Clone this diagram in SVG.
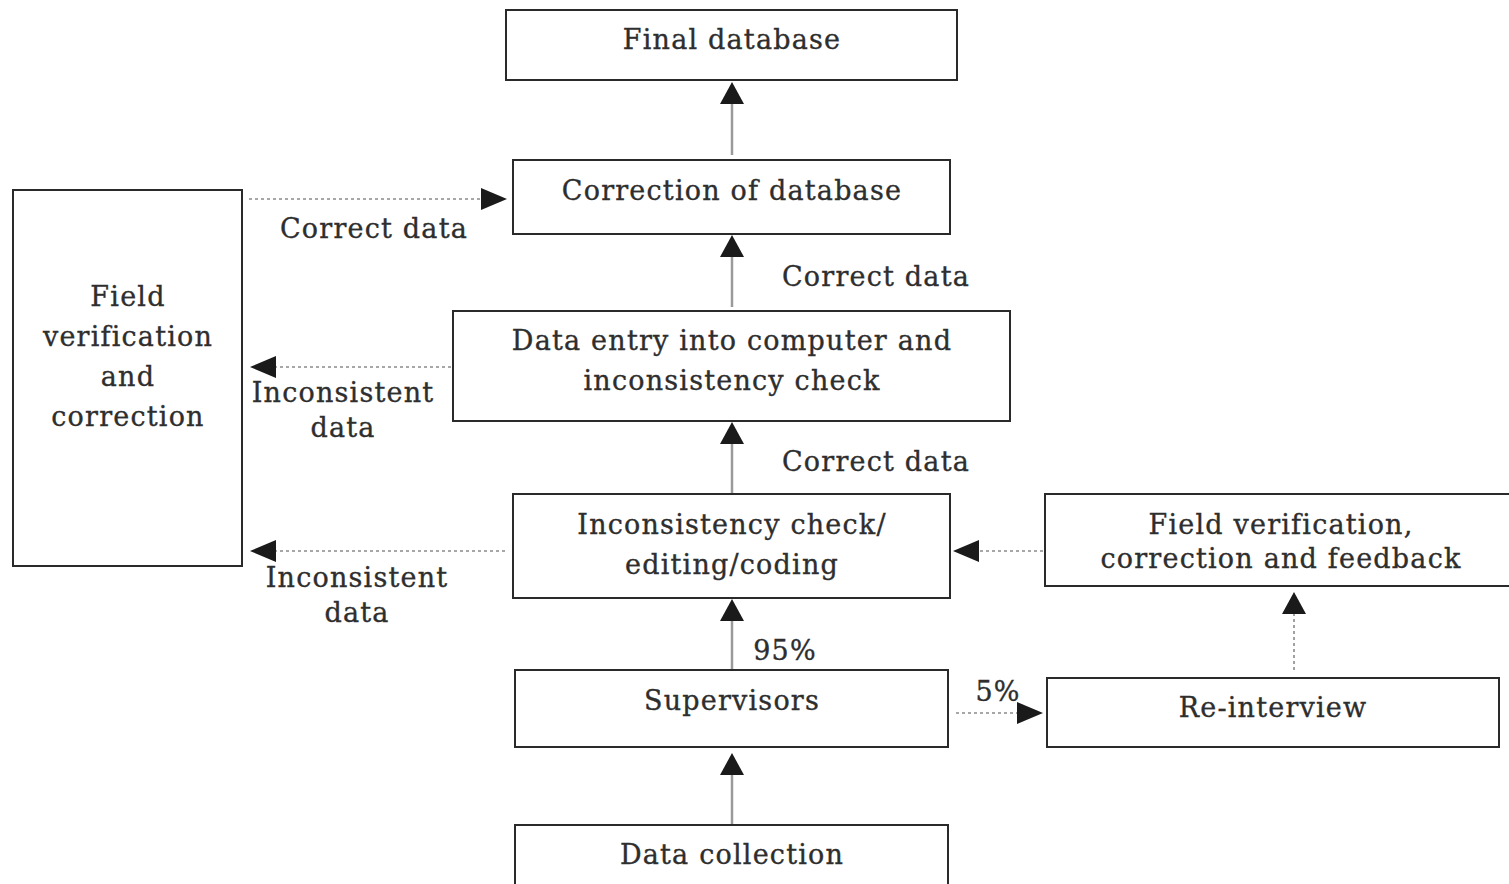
<svg xmlns="http://www.w3.org/2000/svg" width="1509" height="884" viewBox="0 0 1509 884">
<style>
.box{fill:#fff;stroke:#2a2a2a;stroke-width:2}
text{font-family:"DejaVu Serif","Liberation Serif",serif;font-size:27px;letter-spacing:1.2px;fill:#2e2e2e;stroke:#2e2e2e;stroke-width:0.35;text-anchor:middle}
.solid{stroke:#9a9a9a;stroke-width:2.5;fill:none}
.dot{stroke:#8a8a8a;stroke-width:1.6;stroke-dasharray:3 3;fill:none}
</style>
<rect width="1509" height="884" fill="#fff"/>
<g id="connectors">
<line class="solid" x1="732" y1="155" x2="732" y2="100"/>
<polygon points="732,82 720,104 744,104" fill="#1a1a1a"/>
<line class="solid" x1="732" y1="307" x2="732" y2="252"/>
<polygon points="732,235 720,257 744,257" fill="#1a1a1a"/>
<line class="solid" x1="732" y1="493" x2="732" y2="440"/>
<polygon points="732,422 720,444 744,444" fill="#1a1a1a"/>
<line class="solid" x1="732" y1="670" x2="732" y2="615"/>
<polygon points="732,599 720,621 744,621" fill="#1a1a1a"/>
<line class="solid" x1="732" y1="825" x2="732" y2="770"/>
<polygon points="732,753 720,775 744,775" fill="#1a1a1a"/>
<line class="dot" x1="249" y1="199" x2="484" y2="199"/>
<polygon points="507,199 481,188 481,210" fill="#1a1a1a"/>
<line class="dot" x1="451" y1="367" x2="272" y2="367"/>
<polygon points="250,367 276,356 276,378" fill="#1a1a1a"/>
<line class="dot" x1="505" y1="551" x2="272" y2="551"/>
<polygon points="250,551 276,540 276,562" fill="#1a1a1a"/>
<line class="dot" x1="1043" y1="551" x2="975" y2="551"/>
<polygon points="953,551 979,540 979,562" fill="#1a1a1a"/>
<line class="dot" x1="956" y1="713" x2="1020" y2="713"/>
<polygon points="1043,713 1017,702 1017,724" fill="#1a1a1a"/>
<line class="dot" x1="1294" y1="670" x2="1294" y2="612"/>
<polygon points="1294,592 1282,614 1306,614" fill="#1a1a1a"/>
<text x="374" y="238">Correct data</text>
<text x="876" y="286">Correct data</text>
<text x="343" y="402">Inconsistent</text>
<text x="343" y="437">data</text>
<text x="876" y="471">Correct data</text>
<text x="357" y="587">Inconsistent</text>
<text x="357" y="622">data</text>
<text x="785" y="660">95%</text>
<text x="998" y="701">5%</text>
</g>
<g id="final-database"><rect class="box" x="506" y="10" width="451" height="70"/><text x="732" y="49">Final database</text></g>
<g id="correction-of-database"><rect class="box" x="513" y="160" width="437" height="74"/><text x="732" y="200">Correction of database</text></g>
<g id="field-verification"><rect class="box" x="13" y="190" width="229" height="376"/>
<text x="128" y="306">Field</text><text x="128" y="346">verification</text><text x="128" y="386">and</text><text x="128" y="426">correction</text></g>
<g id="data-entry"><rect class="box" x="453" y="311" width="557" height="110"/><text x="732" y="350">Data entry into computer and</text><text x="732" y="390">inconsistency check</text></g>
<g id="inconsistency-check"><rect class="box" x="513" y="494" width="437" height="104"/><text x="732" y="534">Inconsistency check/</text><text x="732" y="574">editing/coding</text></g>
<g id="field-feedback"><rect class="box" x="1045" y="494" width="470" height="92"/><text x="1281" y="534">Field verification,</text><text x="1281" y="568">correction and feedback</text></g>
<g id="supervisors"><rect class="box" x="515" y="670" width="433" height="77"/><text x="732" y="710">Supervisors</text></g>
<g id="re-interview"><rect class="box" x="1047" y="678" width="452" height="69"/><text x="1273" y="717">Re-interview</text></g>
<g id="data-collection"><rect class="box" x="515" y="825" width="433" height="80"/><text x="732" y="864">Data collection</text></g>
</svg>
